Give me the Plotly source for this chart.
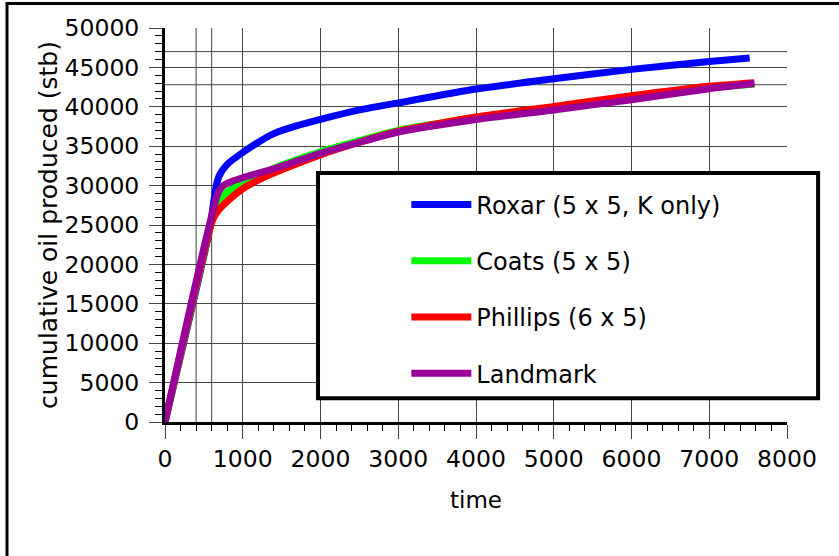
import plotly.graph_objects as go

# ---- data ----
roxar_t = [0, 580, 620, 660, 700, 800, 1000, 1200, 1400, 1700, 2000, 2500, 3000, 4000, 5000, 6000, 7000, 7520]
roxar_v = [0, 24700, 27500, 30000, 31300, 32700, 34200, 35500, 36600, 37600, 38400, 39600, 40500, 42250, 43550, 44750, 45750, 46200]

coats_t = [0, 600, 650, 700, 800, 1000, 1250, 1500, 2000, 2500, 3000, 4000, 5000, 6000, 7000, 7580]
coats_v = [0, 25500, 27200, 28200, 29200, 30300, 31500, 32600, 34300, 35700, 37000, 38600, 39900, 41200, 42400, 42850]

phillips_t = [0, 590, 640, 700, 800, 1000, 1200, 1500, 2000, 2500, 3000, 4000, 5000, 6000, 7000, 7580]
phillips_v = [0, 25000, 26200, 27000, 28000, 29600, 30700, 32000, 33900, 35500, 36900, 38700, 40050, 41400, 42600, 43050]

landmark_t = [0, 686, 750, 850, 1000, 1250, 1500, 2000, 2500, 3000, 4000, 5000, 6000, 7000, 7580]
landmark_v = [0, 29150, 30000, 30500, 31000, 31700, 32450, 34100, 35500, 36800, 38400, 39600, 40900, 42300, 42950]

series_names = ["Roxar (5 x 5, K only)", "Coats (5 x 5)", "Phillips (6 x 5)", "Landmark"]
series_colors = ["#0000ff", "#00ff00", "#ff0000", "#990099"]

x_ticks = [0, 1000, 2000, 3000, 4000, 5000, 6000, 7000, 8000]
y_ticks = [0, 5000, 10000, 15000, 20000, 25000, 30000, 35000, 40000, 45000, 50000]
extra_x_grid = [400, 600]
extra_y_grid = [47000, 42800]

FONT = "DejaVu Sans"
GRID = "#444444"

fig = go.Figure()
for name, color, t, v in zip(series_names, series_colors,
                             [roxar_t, coats_t, phillips_t, landmark_t],
                             [roxar_v, coats_v, phillips_v, landmark_v]):
    fig.add_trace(go.Scatter(x=t, y=v, mode="lines", name=name, legendgroup=name,
                             line=dict(color=color, width=7, shape="spline", smoothing=0.6)))

shapes = []
for gx in extra_x_grid:
    shapes.append(dict(type="line", xref="x", yref="y", x0=gx, x1=gx, y0=0, y1=50000,
                       line=dict(color=GRID, width=1), layer="below"))
for gy in extra_y_grid:
    shapes.append(dict(type="line", xref="x", yref="y", x0=0, x1=8000, y0=gy, y1=gy,
                       line=dict(color=GRID, width=1), layer="below"))
# legend box
shapes.append(dict(type="rect", xref="paper", yref="paper", x0=0.246, x1=1.05, y0=0.06, y1=0.632,
                   line=dict(color="black", width=4), fillcolor="white", layer="above"))
# outer figure frame
shapes.append(dict(type="rect", xref="paper", yref="paper", x0=-0.254, x1=1.3, y0=-0.6, y1=1.062,
                   line=dict(color="black", width=3), fillcolor="rgba(0,0,0,0)", layer="above"))

fig.update_layout(
    width=839, height=556,
    margin=dict(l=165, r=52, t=28, b=134),
    paper_bgcolor="white", plot_bgcolor="white",
    font=dict(family=FONT, size=23, color="black"),
    showlegend=True,
    legend=dict(x=0.388, y=0.608, xanchor="left", yanchor="top",
                bgcolor="rgba(0,0,0,0)", borderwidth=0,
                font=dict(family=FONT, size=24, color="black"),
                tracegroupgap=22, itemwidth=60),
    shapes=shapes,
)
fig.update_xaxes(
    range=[0, 8000], tickvals=x_ticks, ticktext=[str(v) for v in x_ticks],
    showgrid=True, gridcolor=GRID, gridwidth=1, zeroline=False,
    showline=True, linecolor="black", linewidth=3,
    ticks="outside", ticklen=14, tickcolor=GRID, tickwidth=1,
    minor=dict(dtick=200, ticks="outside", ticklen=6, tickcolor="black", tickwidth=1, showgrid=False),
    tickfont=dict(family=FONT, size=23.5, color="black"),
    title=dict(text="time", font=dict(family=FONT, size=23, color="black"), standoff=20),
)
fig.update_yaxes(
    range=[0, 50000], tickvals=y_ticks, ticktext=[str(v) for v in y_ticks],
    showgrid=True, gridcolor=GRID, gridwidth=1, zeroline=False,
    showline=True, linecolor="black", linewidth=3,
    ticks="outside", ticklen=13, tickcolor=GRID, tickwidth=1,
    minor=dict(dtick=1000, ticks="outside", ticklen=7, tickcolor="black", tickwidth=1, showgrid=False),
    tickfont=dict(family=FONT, size=23.5, color="black"),
    ticklabelstandoff=5, automargin=True,
    title=dict(text="cumulative oil produced (stb)", font=dict(family=FONT, size=25, color="black"), standoff=0),
)

fig.write_html("out.html", config={"displayModeBar": False},
               post_script="document.body.style.margin='0px';")
